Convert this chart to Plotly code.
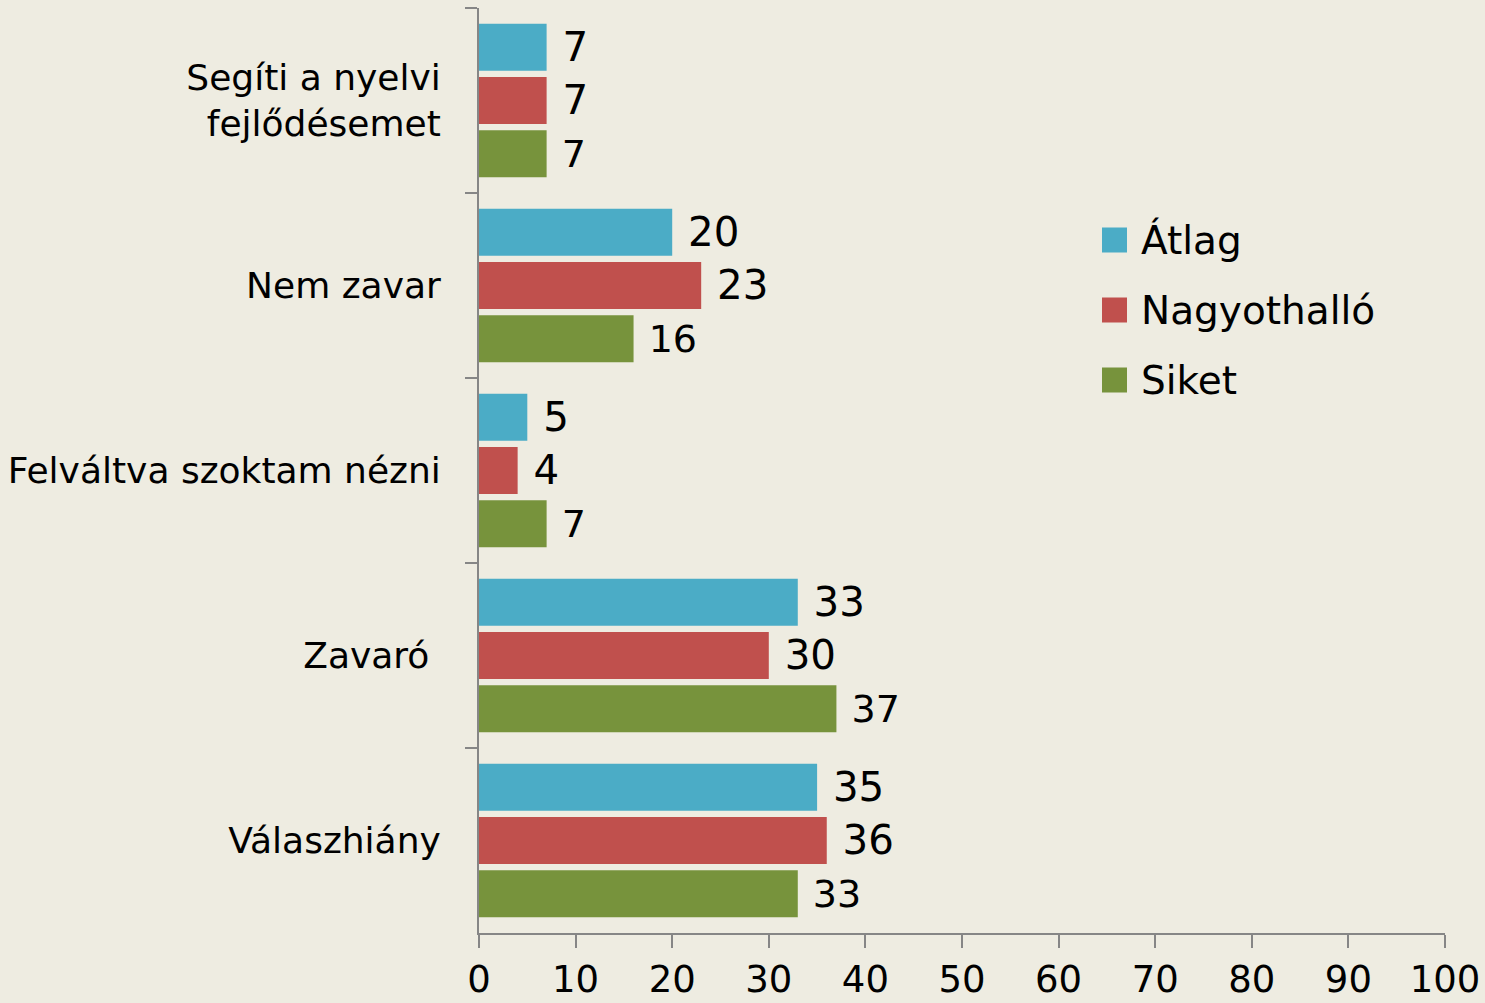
import plotly.graph_objects as go

categories = ["Segíti a nyelvi<br>fejlődésemet", "Nem zavar", "Felváltva szoktam nézni", "Zavaró\u00a0", "Válaszhiány"]
series_names = ["Átlag", "Nagyothalló", "Siket"]
atlag = [7, 20, 5, 33, 35]
nagyothallo = [7, 23, 4, 30, 36]
siket = [7, 16, 7, 37, 33]
x_ticks = list(range(0, 101, 10))

colors = ["#4BACC6", "#C0504D", "#77933C"]
label_sizes = [49, 49, 38]
FONT = "DejaVu Sans"
BG = "#EEECE1"

fig = go.Figure()
for name, vals, color, fs in zip(series_names, [atlag, nagyothallo, siket], colors, label_sizes):
    fig.add_trace(go.Bar(
        name=name, y=categories, x=vals, orientation="h",
        marker=dict(color=color, line=dict(width=0)),
        text=vals, texttemplate="\u00a0%{x}", textposition="outside",
        textfont=dict(family=FONT, size=fs, color="black"),
        cliponaxis=False, showlegend=False,
    ))

# Plot area in pixels
L, R, T, B = 479, 40, 8, 70
W, H = 1485, 1003
pw, ph = W - L - R, H - T - B

def px_x(x):
    return (x - L) / pw

def px_y(y):
    return 1 - (y - T) / ph

# Manual legend (large square swatches)
shapes, annotations = [], []
leg_x0, leg_sq, leg_text_x = 1102, 25, 1139
leg_y0, leg_step = 240, 70
for i, (name, color) in enumerate(zip(series_names, colors)):
    cy = leg_y0 + i * leg_step
    shapes.append(dict(type="rect", xref="paper", yref="paper",
                       x0=px_x(leg_x0), x1=px_x(leg_x0 + leg_sq),
                       y0=px_y(cy + leg_sq / 2), y1=px_y(cy - leg_sq / 2),
                       fillcolor=color, line=dict(width=0)))
    annotations.append(dict(xref="paper", yref="paper", x=px_x(leg_text_x), y=px_y(cy),
                            text=name, showarrow=False, xanchor="left", yanchor="middle",
                            font=dict(family=FONT, size=39, color="black")))

fig.update_layout(
    width=W, height=H,
    margin=dict(l=L, r=R, t=T, b=B, autoexpand=False),
    paper_bgcolor=BG, plot_bgcolor=BG,
    barmode="group", bargap=0.135, bargroupgap=0.12,
    font=dict(family=FONT, color="black"),
    showlegend=False,
    shapes=shapes, annotations=annotations,
    xaxis=dict(range=[0, 100], tickvals=x_ticks, showgrid=False, zeroline=False,
               automargin=False,
               showline=True, linecolor="#868686", linewidth=2,
               ticks="outside", ticklen=13, tickwidth=2, tickcolor="#868686",
               ticklabelstandoff=0,
               tickfont=dict(family=FONT, size=37)),
    yaxis=dict(autorange="reversed", showgrid=False, showline=True, linecolor="#868686",
               automargin=False,
               linewidth=2, ticks="outside", tickson="boundaries", ticklen=12,
               tickwidth=2, tickcolor="#868686", ticklabelstandoff=29,
               tickfont=dict(family=FONT, size=36)),
)
fig.write_html("out.html", config={"displayModeBar": False},
               post_script="document.body.style.margin='0px';")
